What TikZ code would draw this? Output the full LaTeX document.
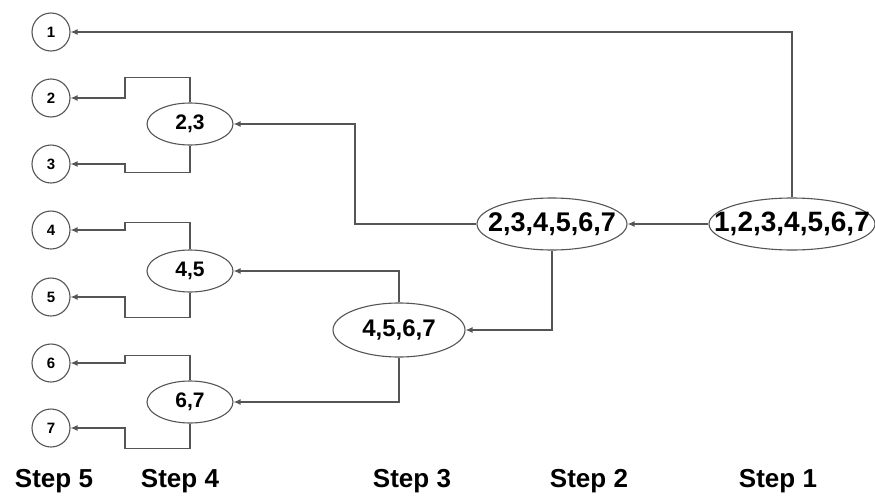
\documentclass[tikz,border=0pt]{standalone}
\usepackage{fontspec}
\setmainfont{Liberation Sans}
\usetikzlibrary{shapes.geometric,arrows.meta}
\definecolor{ln}{HTML}{555555}
\begin{document}
\begin{tikzpicture}[x=1pt,y=-1pt,
  leaf/.style={circle,draw=ln,line width=1.1pt,minimum size=38pt,inner sep=0pt,font=\bfseries\fontsize{15}{15}\selectfont},
  grp/.style={ellipse,draw=ln,line width=1.1pt,inner sep=0pt},
  arr/.style={draw=ln,line width=1.3pt,-{Latex[length=7pt,width=6pt]}},
  steplbl/.style={font=\bfseries\fontsize{26}{26}\selectfont,inner sep=0pt}]
\useasboundingbox (0,0) rectangle (875,498);
\fill[white] (0,0) rectangle (875,498);
% leaves
\node[leaf] (c1) at (51,32) {1};
\node[leaf] (c2) at (51,98) {2};
\node[leaf] (c3) at (51,164) {3};
\node[leaf] (c4) at (51,230) {4};
\node[leaf] (c5) at (51,297) {5};
\node[leaf] (c6) at (51,363) {6};
\node[leaf] (c7) at (51,428) {7};
% groups
\node[grp,minimum width=86pt,minimum height=42pt,font=\bfseries\fontsize{21}{21}\selectfont] (e23) at (190,124) {2,3};
\node[grp,minimum width=86pt,minimum height=42pt,font=\bfseries\fontsize{21}{21}\selectfont] (e45) at (190,271) {4,5};
\node[grp,minimum width=86pt,minimum height=42pt,font=\bfseries\fontsize{21}{21}\selectfont] (e67) at (190,402) {6,7};
\node[grp,minimum width=132pt,minimum height=54pt,font=\bfseries\fontsize{24}{24}\selectfont] (e4567) at (399,330) {\makebox[80pt]{4,5,6,7}};
\node[grp,minimum width=150pt,minimum height=52pt,font=\bfseries\fontsize{27}{27}\selectfont] (e27) at (552,224) {\makebox[95pt]{2,3,4,5,6,7}};
\node[grp,minimum width=166pt,minimum height=52pt,font=\bfseries\fontsize{28}{28}\selectfont] (e17) at (792,224) {\makebox[105pt]{1,2,3,4,5,6,7}};
% connectors
\coordinate (k1) at (355,224);
\draw[arr] (e17.north) |- (c1.east);
\draw[arr] (e17.west) -- (e27.east);
\draw[arr] (e27.west) -- (k1) |- (e23.east);
\draw[arr] (e27.south) |- (e4567.east);
\draw[arr] (e4567.north) |- (e45.east);
\draw[arr] (e4567.south) |- (e67.east);
% brackets
\draw[arr] (e23.north) -- ++(0,-25) -| (125,98) -- (c2.east);
\draw[arr] (e23.south) -- ++(0,27) -| (125,164) -- (c3.east);
\draw[arr] (e45.north) -- ++(0,-27) -| (125,230) -- (c4.east);
\draw[arr] (e45.south) -- ++(0,25) -| (125,297) -- (c5.east);
\draw[arr] (e67.north) -- ++(0,-25) -| (125,363) -- (c6.east);
\draw[arr] (e67.south) -- ++(0,25) -| (125,428) -- (c7.east);
% step labels
\node[steplbl] (s5) at (54,481) {Step 5};
\node[steplbl] (s4) at (180,481) {Step 4};
\node[steplbl] (s3) at (412,481) {Step 3};
\node[steplbl] (s2) at (589,481) {Step 2};
\node[steplbl] (s1) at (778,481) {Step 1};
\end{tikzpicture}
\end{document}
